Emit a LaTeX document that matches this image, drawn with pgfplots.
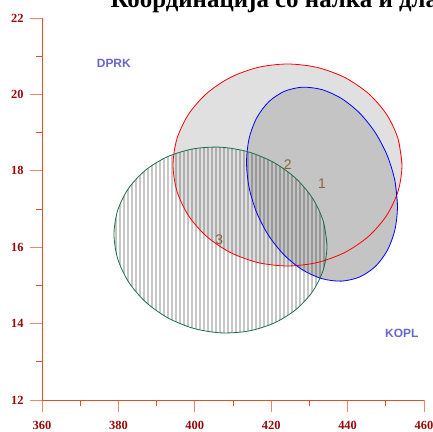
\documentclass[border=0pt]{standalone}
\usepackage{fontspec}
\setmainfont{Liberation Serif}
\newfontfamily\sansf{Liberation Sans}
\usepackage{pgfplots}
\usepackage{pgfplotstable}
\pgfplotsset{compat=1.18}
\usetikzlibrary{patterns.meta,calc}
\definecolor{axisc}{RGB}{228,78,36}
\definecolor{tickc}{RGB}{240,135,105}
\definecolor{labc}{RGB}{150,10,10}
\definecolor{namec}{RGB}{102,102,204}
\definecolor{numc}{RGB}{140,98,57}
\definecolor{greenc}{RGB}{30,110,70}

\pgfplotstableread{
x y
454.24 18.152
453.22 18.836
450.22 19.474
445.46 20.022
439.26 20.442
432.03 20.706
424.27 20.796
416.51 20.706
409.29 20.442
403.08 20.022
398.32 19.474
395.32 18.836
394.30 18.152
395.32 17.468
398.32 16.830
403.08 16.282
409.29 15.862
416.51 15.598
424.27 15.508
432.03 15.598
439.26 15.862
445.46 16.282
450.22 16.830
453.22 17.468
454.24 18.152
453.22 18.836
}\redE

\pgfplotstableread{
x y
453.06 17.078
452.39 17.738
450.41 18.392
447.27 18.995
443.18 19.507
438.41 19.892
433.30 20.124
428.19 20.188
423.42 20.079
419.33 19.804
416.19 19.382
414.21 18.843
413.54 18.222
414.21 17.562
416.19 16.908
419.33 16.305
423.42 15.794
428.19 15.408
433.30 15.176
438.41 15.112
443.18 15.222
447.27 15.496
450.41 15.918
452.39 16.457
453.06 17.078
452.39 17.738
}\blueE

\pgfplotstableread{
x y
434.61 16.040
433.66 16.674
430.87 17.275
426.44 17.801
420.67 18.218
413.95 18.497
406.73 18.618
399.52 18.573
392.79 18.366
387.02 18.011
382.59 17.531
379.80 16.960
378.85 16.336
379.80 15.702
382.59 15.101
387.02 14.575
392.79 14.158
399.52 13.879
406.73 13.758
413.95 13.803
420.67 14.010
426.44 14.365
430.87 14.845
433.66 15.416
434.61 16.040
433.66 16.674
}\greenE

\begin{document}
\begin{tikzpicture}
\begin{axis}[name=ax, scale only axis, width=382bp, height=382bp,
  xmin=360, xmax=460, ymin=12, ymax=22,
  axis x line*=bottom, axis y line*=left,
  xtick={360,380,...,460}, ytick={12,14,...,22}, minor tick num=1,
  tick align=outside, major tick length=12bp, minor tick length=6bp,
  axis line style={color=axisc, line width=0.8bp},
  major tick style={color=tickc, line width=0.8bp},
  minor tick style={color=axisc, line width=0.8bp},
  ticklabel style={font=\fontsize{12.5}{12.5}\selectfont\bfseries, text=labc},
  xticklabel style={yshift=-6bp},
  yticklabel style={xshift=-3bp},
  /pgf/number format/assume math mode=true,
  /pgf/number format/1000 sep={},
  clip=false]
\addplot[draw=none, fill={rgb,255:red,224;green,224;blue,224}, smooth] table {\redE};
\addplot[draw=none, fill={rgb,255:red,196;green,196;blue,196}, smooth] table {\blueE};
\addplot[draw=none, blend mode=multiply, pattern={Lines[angle=90,distance=4bp,line width=2bp]}, pattern color=black!22, smooth] table {\greenE};
\addplot[draw=red, line width=0.8bp, smooth] table {\redE};
\addplot[draw=blue, line width=0.8bp, smooth] table {\blueE};
\addplot[draw=greenc, line width=0.8bp, smooth] table {\greenE};
\node[text=numc, font={\sansf\fontsize{14}{14}\selectfont}] at (axis cs:433.3,17.65) {1};
\node[text=numc, font={\sansf\fontsize{14}{14}\selectfont}] at (axis cs:424.3,18.15) {2};
\node[text=numc, font={\sansf\fontsize{14}{14}\selectfont}] at (axis cs:406.4,16.19) {3};
\node[text=namec, font={\sansf\bfseries\fontsize{12}{12}\selectfont}] at (axis cs:378.8,20.82) {DPRK};
\node[text=namec, font={\sansf\bfseries\fontsize{12}{12}\selectfont}] at (axis cs:454.2,13.75) {KOPL};
\end{axis}
\node[anchor=base west, font={\fontsize{25}{30}\selectfont\bfseries}] at ($(ax.north west)+(65bp,10bp)$) {Координација со налка и длабочина};
\pgfresetboundingbox
\path[use as bounding box] ($(ax.south west)+(-42bp,-32bp)$) rectangle ($(ax.north east)+(9bp,18bp)$);
\end{tikzpicture}
\end{document}
